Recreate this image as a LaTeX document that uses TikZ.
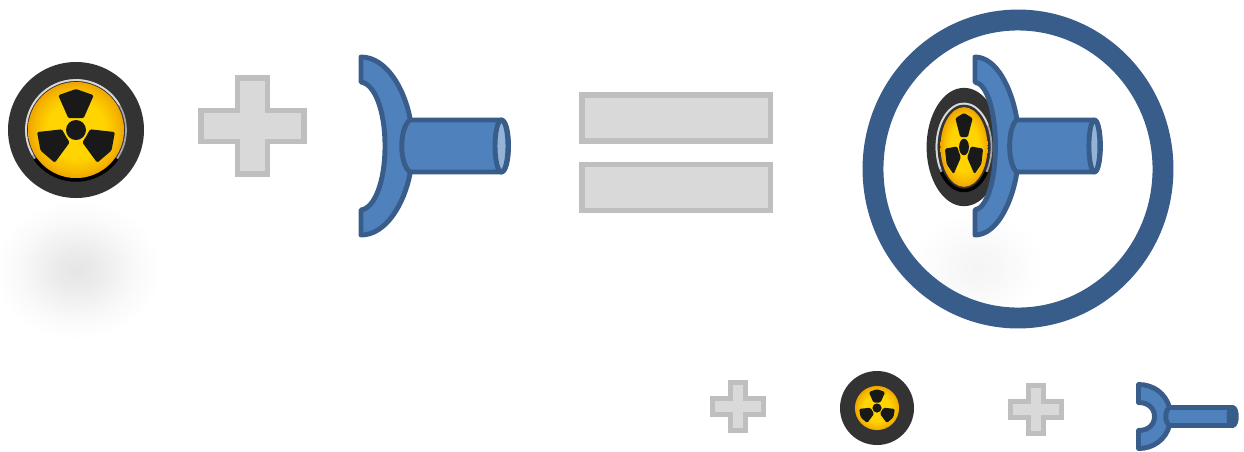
\documentclass[tikz,border=0pt]{standalone}
\usetikzlibrary{calc}
\definecolor{cblue}{HTML}{4F81BD}
\definecolor{cdeep}{HTML}{385D8A}
\definecolor{clight}{HTML}{95B3D7}
\definecolor{cgrey}{HTML}{D9D9D9}
\definecolor{cedge}{HTML}{BFBFBF}
\definecolor{ctyre}{HTML}{333333}
\definecolor{cgold}{HTML}{FFD400}
\definecolor{camber}{HTML}{F0A400}
\pgfdeclareradialshading{softblob}{\pgfpointorigin}{color(0bp)=(black!10); color(6bp)=(black!8); color(12bp)=(black!5); color(18bp)=(black!2); color(25bp)=(white); color(50bp)=(white)}
\pgfdeclareradialshading{faintblob}{\pgfpointorigin}{color(0bp)=(black!4); color(8bp)=(black!3); color(16bp)=(black!1.5); color(25bp)=(white); color(50bp)=(white)}
\pgfdeclareradialshading{yellowdisc}{\pgfpointorigin}{color(0bp)=(cgold); color(15bp)=(cgold); color(22bp)=(camber!60!cgold); color(25bp)=(camber); color(50bp)=(camber)}
\tikzset{
  every picture/.style={x=0.02cm, y=-0.02cm, line width=2.8pt, line join=round},
  flatbox/.style={draw=cedge, fill=cgrey, line join=miter, line width=3pt},
  hornline/.style={draw=cdeep, fill=cblue},
  trefoil/.pic={
    \shade[shading=yellowdisc] (0,0) circle[radius=48];
    \fill[black!90] (0,0) circle[radius=10];
    \foreach \a in {270,30,150} {
      \fill[black!90, rounded corners=.8pt] (\a-33:14) -- (\a-27:39) -- (\a:41) -- (\a+27:39) -- (\a+33:14) -- (\a:12) -- cycle;
    }
  },
  tyre/.pic={
    \fill[ctyre] (0,0) circle[radius=68];
    \draw[black!35, line width=1pt] (0,0) circle[radius=50];
    \draw[black!15, line width=1pt] (150:50) arc[start angle=150, end angle=330, radius=50];
    \draw[black, line width=2pt] (35:50) arc[start angle=35, end angle=145, radius=50];
  },
  cross/.pic={
    \path[flatbox] (-15.3,-48) -- (15.3,-48) -- (15.3,-15.3) -- (51.5,-15.3) -- (51.5,15.3) -- (15.3,15.3) -- (15.3,48) -- (-15.3,48) -- (-15.3,15.3) -- (-51.5,15.3) -- (-51.5,-15.3) -- (-15.3,-15.3) -- cycle;
  },
  horn/.pic={
    \path[hornline] (0,-89) .. controls (25,-89) and (43,-58) .. (49,-28) -- (49,28) .. controls (43,58) and (25,89) .. (0,89) -- (0,64) .. controls (14,62) and (24,35) .. (24,0) .. controls (24,-35) and (14,-62) .. (0,-64) -- cycle;
    \path[hornline] (49,-26) -- (140,-26) .. controls (150,-26) and (150,26) .. (140,26) -- (49,26) .. controls (38,18) and (38,-18) .. (49,-26) -- cycle;
    \path[draw=cdeep, fill=clight] (140.5,0) ellipse[x radius=6.5, y radius=26];
  },
  tinyhorn/.pic={
    \path[hornline] (0,-32) .. controls (15,-32) and (27,-23) .. (31,-9) -- (31,9) .. controls (27,23) and (15,32) .. (0,32) -- (0,14) .. controls (10,14) and (16,8) .. (16,0) .. controls (16,-8) and (10,-14) .. (0,-14) -- cycle;
    \path[hornline] (31,-9) -- (94,-9) .. controls (99,-9) and (99,9) .. (94,9) -- (31,9) .. controls (26,6) and (26,-6) .. (31,-9) -- cycle;
    \path[draw=cdeep, fill=cdeep] (93,0) ellipse[x radius=2.5, y radius=9];
  },
}
\begin{document}
\begin{tikzpicture}
  \useasboundingbox (0,0) rectangle (1244,451);
  % shadows
  \shade[shading=softblob] (77,270) ellipse[x radius=84, y radius=70];
  \shade[shading=faintblob] (977,267) ellipse[x radius=66, y radius=56];
  % first row
  \pic at (76,130) {tyre};
  \pic at (76,130) {trefoil};
  \pic at (252.5,126) {cross};
  \pic at (361,146) {horn};
  \path[flatbox] (582,95) rectangle (770.7,141);
  \path[flatbox] (582,164.3) rectangle (770.7,210.3);
  % the joined parts
  \pic[xscale=.55, yscale=.87] at (964,147) {tyre};
  \pic[xscale=.49, yscale=.83] at (964,147) {trefoil};
  \pic[xscale=.85] at (975,146) {horn};
  \draw[cdeep, line width=11.9pt] (1018,169) ellipse[x radius=145, y radius=149];
  % small row
  \foreach \x/\y in {738/406.5, 1036/409.5} {
    \pic[scale=.5] at (\x,\y) {cross};
  }
  \fill[ctyre] (877,408) circle[radius=37];
  \pic[scale=.46] at (877,408) {trefoil};
  \pic at (1138.5,416.5) {tinyhorn};
\end{tikzpicture}
\end{document}
